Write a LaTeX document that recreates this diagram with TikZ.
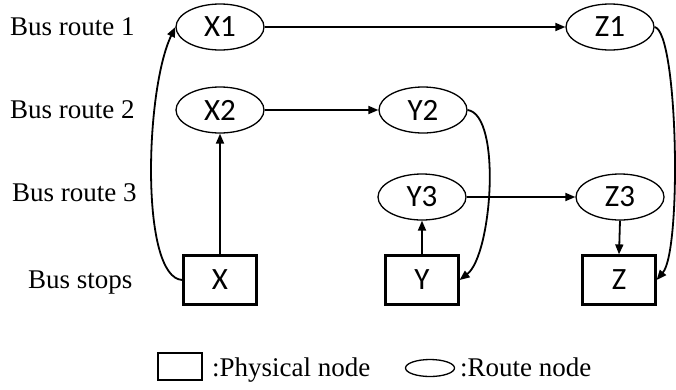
\documentclass[tikz,border=0pt]{standalone}
\usepackage{fontspec}
\setmainfont{Liberation Serif}
\newfontfamily\labelfont{Carlito}
\usetikzlibrary{arrows.meta,shapes.geometric}

\tikzset{
  routenode/.style={draw, ellipse, line width=1.3pt, minimum width=88pt, minimum height=46pt,
    inner sep=0pt, font=\labelfont\fontsize{31}{33}\selectfont},
  stopnode/.style={draw, rectangle, line width=2.2pt, minimum width=73pt, minimum height=49pt,
    inner sep=0pt, font=\labelfont\fontsize{31}{33}\selectfont},
  rowlabel/.style={anchor=base west, inner sep=0pt, font=\fontsize{27}{29}\selectfont},
  link/.style={line width=1.8pt, -{Triangle[length=10pt,width=8pt]}},
}

\begin{document}
\begin{tikzpicture}[x=1pt, y=-1pt]
  \useasboundingbox (0,0) rectangle (676,389);

  % row captions
  \node[rowlabel] (l1) at (10,35)  {Bus route 1};
  \node[rowlabel] (l2) at (10,118) {Bus route 2};
  \node[rowlabel] (l3) at (12,201) {Bus route 3};
  \node[rowlabel] (l4) at (28,288) {Bus stops};

  % route nodes
  \node[routenode] (X1) at (220,27)  {X1};
  \node[routenode] (Z1) at (610,27)  {Z1};
  \node[routenode] (X2) at (220,110) {X2};
  \node[routenode] (Y2) at (423,110) {Y2};
  \node[routenode] (Y3) at (422,197) {Y3};
  \node[routenode] (Z3) at (620,197) {Z3};

  % physical stops
  \node[stopnode] (X) at (220,280) {X};
  \node[stopnode] (Y) at (422,280) {Y};
  \node[stopnode] (Z) at (619,280) {Z};

  % route 1
  \draw[link] (X.west) .. controls (140,278) and (145,90) .. (X1.west);
  \draw[link] (X1.east) -- (Z1.west);
  \draw[link] (Z1.east) .. controls (678,32) and (682,250) .. (Z.east);

  % route 2
  \draw[link] (X.north) -- (X2.south);
  \draw[link] (X2.east) -- (Y2.west);
  \draw[link] (Y2.east) .. controls (502,115) and (492,255) .. (Y.east);

  % route 3
  \draw[link] (Y.north) -- (Y3.south);
  \draw[link] (Y3.east) -- (Z3.west);
  \draw[link] (Z3.south) -- (Z.north);

  % legend
  \node[draw, rectangle, line width=2.2pt, minimum width=44pt, minimum height=27pt, inner sep=0pt]
    (legbox) at (180,366.5) {};
  \node[rowlabel] (legboxtext) at (212,376) {:Physical node};
  \node[draw, ellipse, line width=1.3pt, minimum width=49pt, minimum height=17pt, inner sep=0pt]
    (legell) at (430,368) {};
  \node[rowlabel] (legelltext) at (460,376) {:Route node};
\end{tikzpicture}
\end{document}
